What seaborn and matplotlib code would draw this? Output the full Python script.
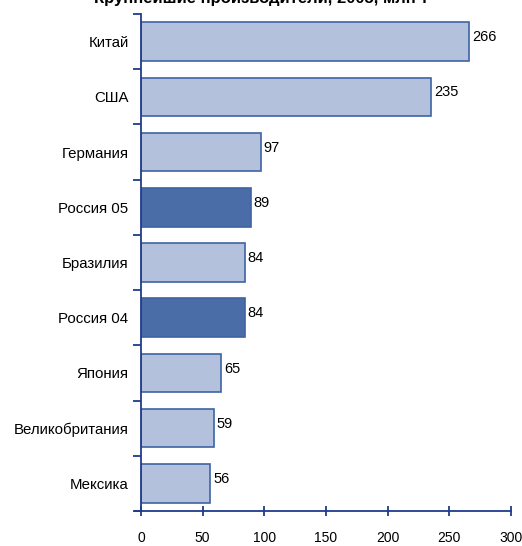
import matplotlib
matplotlib.use("Agg")
import matplotlib.pyplot as plt
import seaborn as sns
import pandas as pd

countries = ['Китай', 'США', 'Германия', 'Россия 05', 'Бразилия',
             'Россия 04', 'Япония', 'Великобритания', 'Мексика']
values = [266, 235, 97, 89, 84, 84, 65, 59, 56]
highlight = ['Россия 05', 'Россия 04']

light = '#B3C1DD'
dark = '#4A6DA8'
edge = '#3E63A3'
axis_col = '#1F3C8C'

sns.set_theme(style="white")
plt.rcParams['font.family'] = ['Liberation Sans', 'DejaVu Sans']
plt.rcParams['text.color'] = 'black'

df = pd.DataFrame({'Страна': countries, 'Значение': values})
palette = {c: (dark if c in highlight else light) for c in countries}

fig = plt.figure(figsize=(5.22, 5.46), dpi=100)
ax = fig.add_axes([141 / 522, 1 - 511 / 546, 370 / 522, 497 / 546])

sns.barplot(data=df, y='Страна', x='Значение', hue='Страна', palette=palette,
            order=countries, width=0.7, edgecolor=edge, linewidth=1.2,
            saturation=1, legend=False, ax=ax)

# подписи значений справа от столбцов
for i, v in enumerate(values):
    ax.text(v + 2.5, i - 0.08, str(v), fontsize=10.5, va='center', ha='left', color='black')

ax.set_xlim(0, 300)
ax.set_ylim(len(countries) - 0.5, -0.5)
ax.set_xticks(range(0, 301, 50))
ax.set_yticks([i - 0.5 for i in range(len(countries) + 1)], minor=False)
ax.set_yticklabels([])
ax.set_yticks(range(len(countries)), minor=True)
ax.set_yticklabels(countries, minor=True)
ax.tick_params(axis='y', which='minor', left=False, length=0, pad=9, labelsize=10.8,
               labelcolor='black')
ax.tick_params(axis='y', which='major', left=True, direction='out', length=6,
               width=1.3, color=axis_col)
ax.tick_params(axis='x', bottom=True, direction='inout', length=7, width=1.3,
               color=axis_col, labelsize=10, pad=11, labelcolor='black')
ax.set_xlabel('')
ax.set_ylabel('')

for s in ['top', 'right']:
    ax.spines[s].set_visible(False)
for s in ['left', 'bottom']:
    ax.spines[s].set_color(axis_col)
    ax.spines[s].set_linewidth(1.3)
ax.spines['bottom'].set_bounds(-5, 300)
ax.grid(False)

fig.text(0.5, 1.003, 'Крупнейшие производители, 2005, млн т', fontsize=12,
         fontweight='bold', ha='center', va='center')

fig.savefig('out.png', dpi=100)
